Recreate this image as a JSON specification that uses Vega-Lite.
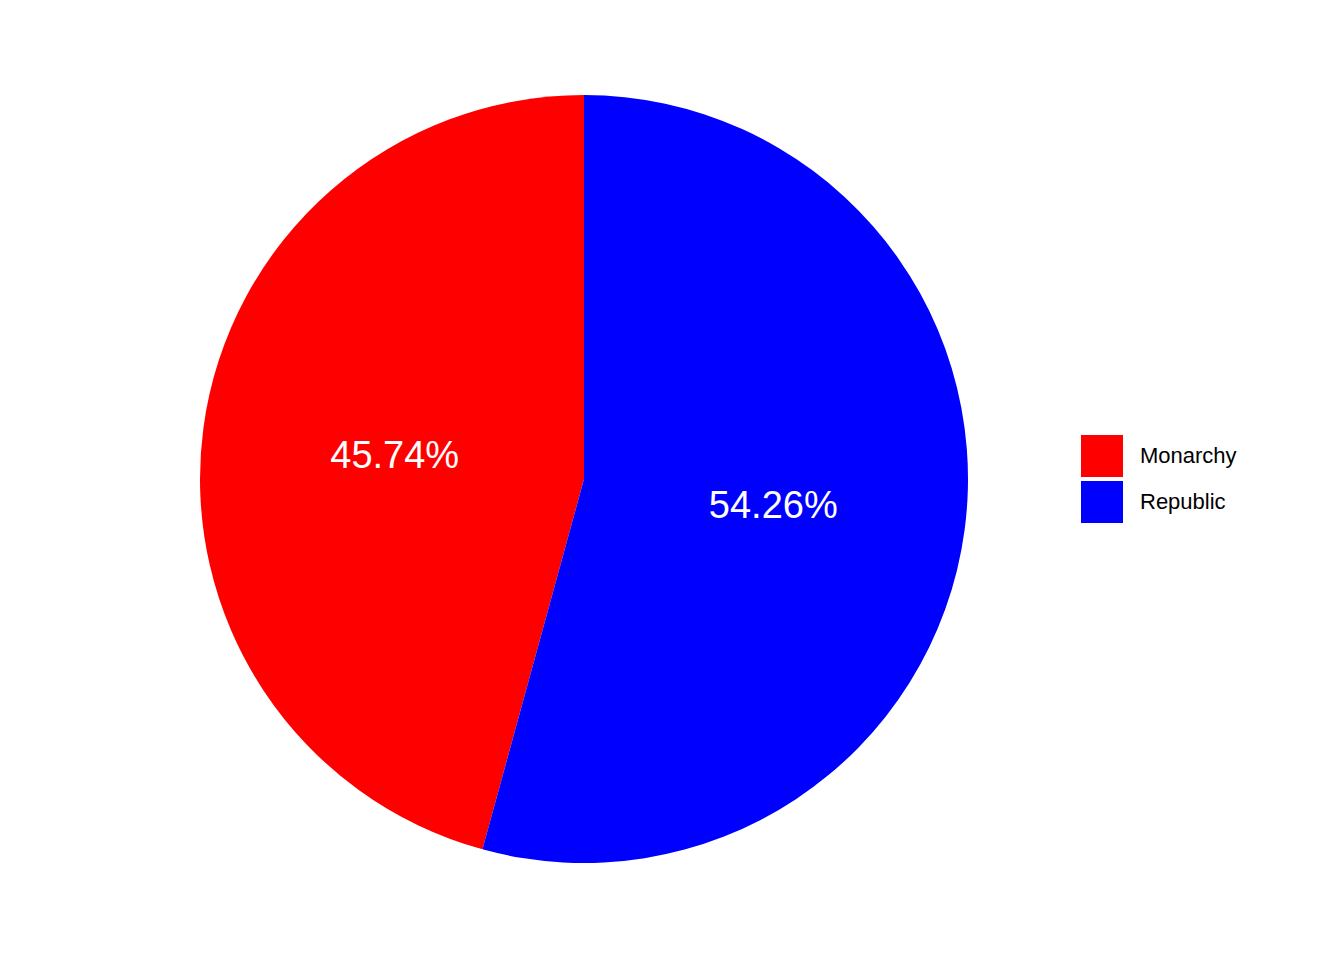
{
  "$schema": "https://vega.github.io/schema/vega-lite/v6.json",
  "width": 768,
  "height": 768,
  "autosize": "none",
  "padding": {"left": 200, "top": 95, "right": 376, "bottom": 97},
  "background": "white",
  "data": {
    "values": [
      {"government": "Monarchy", "share": 0.4574},
      {"government": "Republic", "share": 0.5426}
    ]
  },
  "encoding": {
    "theta": {"field": "share", "type": "quantitative", "stack": true},
    "order": {"field": "government", "sort": "descending"}
  },
  "layer": [
    {
      "mark": {"type": "arc", "strokeWidth": 0},
      "encoding": {
        "color": {
          "field": "government",
          "type": "nominal",
          "scale": {"domain": ["Monarchy", "Republic"], "range": ["#FF0000", "#0000FF"]},
          "legend": {
            "title": null,
            "orient": "none",
            "legendX": 881,
            "legendY": 340,
            "symbolType": "square",
            "symbolSize": 1764,
            "symbolStrokeWidth": 0,
            "symbolOpacity": 1,
            "labelFont": "Liberation Sans",
            "labelFontSize": 22,
            "labelColor": "black",
            "labelOffset": 17,
            "rowPadding": 4
          }
        }
      }
    },
    {
      "mark": {
        "type": "text",
        "radius": 191,
        "font": "Liberation Sans",
        "fontSize": 38,
        "color": "white",
        "baseline": "middle",
        "align": "center",
        "dy": 3
      },
      "encoding": {
        "text": {"field": "share", "type": "quantitative", "format": ".2%"}
      }
    }
  ],
  "config": {"view": {"stroke": null}}
}
